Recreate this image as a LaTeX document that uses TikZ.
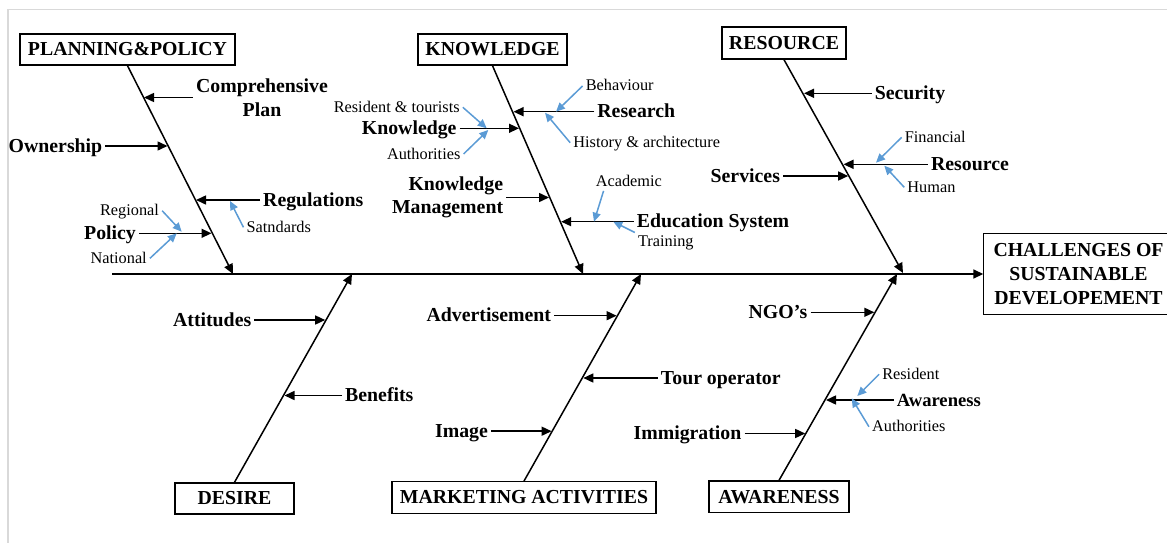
\documentclass[tikz,border=0pt]{standalone}
\usepackage{fontspec}
\setmainfont{Liberation Serif}
\usetikzlibrary{arrows.meta,calc}
\definecolor{sblue}{RGB}{91,155,213}
\definecolor{framegray}{RGB}{217,217,217}
\begin{document}
\begin{tikzpicture}[x=1pt,y=-1pt,
  box/.style={draw, line width=1.4pt, font=\fontsize{19.8}{24}\selectfont\bfseries, inner sep=0pt, align=center},
  lbl/.style={font=\fontsize{19.8}{23.5}\selectfont\bfseries, inner sep=3pt, text height=13.5pt, text depth=1pt},
  lbltwo/.style={font=\fontsize{19.8}{23.5}\selectfont\bfseries, inner sep=3pt},
  sm/.style={font=\fontsize{16.3}{19}\selectfont, inner sep=3pt, text height=11pt, text depth=1pt},
  arr/.style={line width=1.5pt, -{Triangle[length=10pt,width=9pt]}},
  barr/.style={sblue, line width=1.5pt, -{Triangle[length=9pt,width=8pt]}}]
\useasboundingbox (0,0) rectangle (1167,543);
\draw[framegray, line width=1.5pt] (8,543) -- (8,9.5) -- (1167,9.5);

% category boxes
\node[box, minimum width=215, minimum height=31] (pp) at (127.5,49.5) {PLANNING\&POLICY};
\node[box, minimum width=149, minimum height=31] (kn) at (492.5,49.5) {KNOWLEDGE};
\node[box, minimum width=124, minimum height=32] (rs) at (784,43) {RESOURCE};
\node[box, minimum width=119, minimum height=31] (de) at (234.5,498.5) {DESIRE};
\node[box, minimum width=264, minimum height=31.5] (ma) at (524,497.5) {MARKETING ACTIVITIES};
\node[box, minimum width=140, minimum height=31.3] (aw) at (779,496.7) {AWARENESS};
\node[box, draw=none, minimum width=189, minimum height=80] (ch) at (1078.5,274) {CHALLENGES OF\\SUSTAINABLE\\DEVELOPEMENT};
\draw[line width=1.4pt] (ch.north west) rectangle ([xshift=12pt]ch.south east);

% spine
\coordinate (sp) at (112,274);
\draw[arr] (sp) -- (ch.west);

% bones
\coordinate (ppE) at (233,274);
\coordinate (knE) at (583,274);
\coordinate (rsE) at (903,273);
\coordinate (deE) at (352,274);
\coordinate (maE) at (641,274);
\coordinate (awE) at (897,274);
\draw[arr] (pp.south) -- (ppE);
\draw[arr] (kn.south) -- (knE);
\draw[arr] (rs.south) -- (rsE);
\draw[arr] (de.north) -- (deE);
\draw[arr] (ma.north) -- (maE);
\draw[arr] (aw.north) -- (awE);

% PLANNING & POLICY
\node[lbltwo, align=center] (cp) at (262,97.5) {Comprehensive\\Plan};
\node[lbl] (own) at (55.5,146) {Ownership};
\node[lbl] (reg) at (313.3,200) {Regulations};
\node[lbl] (pol) at (110,233.3) {Policy};
\node[sm] (rgn) at (129.5,210.7) {Regional};
\node[sm] (nat) at (118.7,258.3) {National};
\node[sm] (sat) at (278.8,227.3) {Satndards};
\coordinate (tcp) at (144,97.5);
\coordinate (town) at (167.5,146);
\coordinate (treg) at (196,200);
\coordinate (tpol) at (211.5,233.3);
\coordinate (trgn) at (181.7,231.7);
\coordinate (tnat) at (176.7,233.3);
\coordinate (tsat) at (230,201);
\draw[arr] (cp) -- (tcp);
\draw[arr] (own) -- (town);
\draw[arr] (reg) -- (treg);
\draw[arr] (pol) -- (tpol);
\draw[barr] (rgn.east) -- (trgn);
\draw[barr] (nat.east) -- (tnat);
\draw[barr] (sat.west) -- (tsat);

% KNOWLEDGE
\node[lbl] (rsh) at (636.3,111.7) {Research};
\node[sm] (beh) at (619.7,86) {Behaviour};
\node[sm] (his) at (646.7,142.7) {History \& architecture};
\node[lbl] (klg) at (409.2,128.3) {Knowledge};
\node[sm] (rt) at (396.7,107.3) {Resident \& tourists};
\node[sm] (au) at (423.7,154) {Authorities};
\node[lbltwo, align=right, anchor=east] (km) at (506.3,197.5) {Knowledge\\Management};
\node[lbl] (edu) at (713,221.7) {Education System};
\node[sm] (acd) at (628.8,181.7) {Academic};
\node[sm] (trn) at (665.8,241.7) {Training};
\coordinate (trsh) at (513.5,111.7);
\coordinate (tklg) at (519,128.3);
\coordinate (tkm) at (549,197.5);
\coordinate (tedu) at (561.2,221.7);
\coordinate (tbeh) at (556,111.7);
\coordinate (this) at (545,112.7);
\coordinate (trt) at (486.7,128.3);
\coordinate (tau) at (488.3,130);
\coordinate (tacd) at (594,221.7);
\coordinate (ttrn) at (613.3,221.7);
\draw[arr] (rsh) -- (trsh);
\draw[arr] (klg) -- (tklg);
\draw[arr] (km) -- (tkm);
\draw[arr] (edu) -- (tedu);
\draw[barr] (beh.west) -- (tbeh);
\draw[barr] (his.west) -- (this);
\draw[barr] (rt.east) -- (trt);
\draw[barr] (au.east) -- (tau);
\draw[barr] ([xshift=11pt]acd.south west) -- (tacd);
\draw[barr] (trn.north west) -- (ttrn);

% RESOURCE
\node[lbl] (sec) at (910,93.3) {Security};
\node[lbl] (rsl) at (970,164.3) {Resource};
\node[sm] (fin) at (935.2,137.3) {Financial};
\node[sm] (hum) at (931.4,187.3) {Human};
\node[lbl] (srv) at (745.3,176) {Services};
\coordinate (tsec) at (804,93.3);
\coordinate (trsl) at (843.5,164.3);
\coordinate (tsrv) at (848.2,176);
\coordinate (tfin) at (876,162.7);
\coordinate (thum) at (884.3,165.7);
\draw[arr] (sec) -- (tsec);
\draw[arr] (rsl) -- (trsl);
\draw[arr] (srv) -- (tsrv);
\draw[barr] (fin.west) -- (tfin);
\draw[barr] (hum.west) -- (thum);

% DESIRE
\node[lbl] (att) at (212.2,320) {Attitudes};
\node[lbl] (ben) at (379.3,395.5) {Benefits};
\coordinate (tatt) at (325.2,320);
\coordinate (tben) at (284.5,395.5);
\draw[arr] (att) -- (tatt);
\draw[arr] (ben) -- (tben);

% MARKETING ACTIVITIES
\node[lbl] (adv) at (488.8,315.7) {Advertisement};
\node[lbl] (tour) at (720.8,378) {Tour operator};
\node[lbl] (img) at (461.5,431.2) {Image};
\coordinate (tadv) at (616.6,315.7);
\coordinate (ttour) at (583.3,378);
\coordinate (timg) at (551.6,431.2);
\draw[arr] (adv) -- (tadv);
\draw[arr] (tour) -- (ttour);
\draw[arr] (img) -- (timg);

% AWARENESS
\node[lbl] (ngo) at (778,312.3) {NGO’s};
\node[lbl, font=\fontsize{18.6}{22}\selectfont\bfseries] (awl) at (938.8,400) {Awareness};
\node[lbl] (imm) at (687.5,433.5) {Immigration};
\node[sm] (rsd) at (910.8,374.3) {Resident};
\node[sm] (au2) at (908.8,426.7) {Authorities};
\coordinate (tngo) at (874.3,312.3);
\coordinate (tawl) at (826,400);
\coordinate (timm) at (805.2,433.5);
\coordinate (trsd) at (857.3,396);
\coordinate (tau2) at (851.7,398.3);
\draw[arr] (ngo) -- (tngo);
\draw[arr] (awl) -- (tawl);
\draw[arr] (imm) -- (timm);
\draw[barr] (rsd.west) -- (trsd);
\draw[barr] (au2.west) -- (tau2);
\end{tikzpicture}
\end{document}
